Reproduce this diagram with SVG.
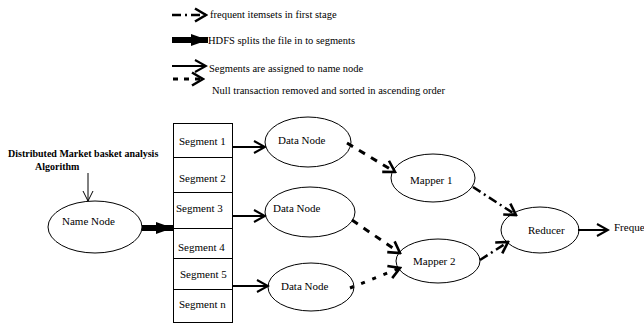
<svg xmlns="http://www.w3.org/2000/svg" width="644" height="323" viewBox="0 0 644 323">
<style>
  text { font-family: "Liberation Serif", "Times New Roman", serif; fill: #000; }
  .lg { font-size: 10.5px; }
  .nd { font-size: 11px; }
  .title { font-size: 10px; font-weight: bold; }
  .node ellipse, .node rect { fill: #fff; stroke: #000; stroke-width: 1; }
  .seg line { stroke: #000; stroke-width: 1; }
  .c { fill: none; stroke: #000; }
  .solid { stroke-width: 2; marker-end: url(#v); }
  .dash { stroke-width: 3; stroke-dasharray: 7 7; marker-end: url(#vb); }
  .dot { stroke-width: 3; stroke-dasharray: 4 8; marker-end: url(#vb); }
  .dd { stroke-width: 2.5; stroke-dasharray: 9 4 2 4; marker-end: url(#vb); }
  .thick { stroke-width: 6; marker-end: url(#tri); }
</style>
<defs>
  <marker id="v" markerUnits="userSpaceOnUse" markerWidth="14" markerHeight="14" viewBox="0 0 14 14" refX="12" refY="7" orient="auto">
    <path d="M1,1 L12,7 L1,13" fill="none" stroke="#000" stroke-width="2"/>
  </marker>
  <marker id="vb" markerUnits="userSpaceOnUse" markerWidth="14" markerHeight="16" viewBox="0 0 14 16" refX="12" refY="8" orient="auto">
    <path d="M1,1.5 L12,8 L1,14.5" fill="none" stroke="#000" stroke-width="2.6"/>
  </marker>
  <marker id="vt" markerUnits="userSpaceOnUse" markerWidth="12" markerHeight="12" viewBox="0 0 12 12" refX="11" refY="6" orient="auto">
    <path d="M1,1 L11,6 L1,11" fill="none" stroke="#000" stroke-width="1"/>
  </marker>
  <marker id="tri" markerUnits="userSpaceOnUse" markerWidth="18" markerHeight="14" viewBox="0 0 18 14" refX="17" refY="7" orient="auto">
    <path d="M0,1 L17,7 L0,13 Z" fill="#000"/>
  </marker>
</defs>
<rect width="644" height="323" fill="#fff"/>

<g id="legend">
  <line class="c dd" x1="172" y1="15" x2="206" y2="15"/>
  <text class="lg" x="210" y="18">frequent itemsets in first stage</text>
  <line class="c thick" x1="172" y1="40" x2="208" y2="40"/>
  <text class="lg" x="208" y="44">HDFS splits the file in to segments</text>
  <line class="c solid" x1="172" y1="66" x2="206" y2="66"/>
  <text class="lg" x="209" y="72">Segments are assigned to name node</text>
  <line class="c dash" x1="173" y1="79" x2="203" y2="79" style="stroke-dasharray:5 6"/>
  <text class="lg" x="212" y="94">Null transaction removed and sorted in ascending order</text>
</g>

<g id="title">
  <text class="title" x="8" y="157">Distributed Market basket analysis</text>
  <text class="title" x="35" y="170">Algorithm</text>
</g>

<g id="name-node" class="node">
  <ellipse cx="95" cy="227" rx="47" ry="26"/>
  <text class="nd" x="62" y="225">Name Node</text>
</g>

<g id="segments" class="node seg">
  <rect x="173.5" y="123.5" width="59" height="199"/>
  <line x1="173.5" y1="157.5" x2="232.5" y2="157.5"/>
  <line x1="173.5" y1="192.5" x2="232.5" y2="192.5"/>
  <line x1="173.5" y1="228.5" x2="232.5" y2="228.5"/>
  <line x1="173.5" y1="258.5" x2="232.5" y2="258.5"/>
  <line x1="173.5" y1="289.5" x2="232.5" y2="289.5"/>
  <text class="nd" x="179" y="145">Segment 1</text>
  <text class="nd" x="179" y="182">Segment 2</text>
  <text class="nd" x="176" y="212">Segment 3</text>
  <text class="nd" x="178" y="251">Segment 4</text>
  <text class="nd" x="180" y="278">Segment 5</text>
  <text class="nd" x="179" y="308">Segment n</text>
</g>

<g id="data-node-1" class="node">
  <ellipse cx="308" cy="142" rx="43" ry="25"/>
  <text class="nd" x="278" y="144">Data Node</text>
</g>
<g id="data-node-2" class="node">
  <ellipse cx="310" cy="212" rx="45" ry="25"/>
  <text class="nd" x="273" y="212">Data Node</text>
</g>
<g id="data-node-3" class="node">
  <ellipse cx="311" cy="287" rx="43" ry="24"/>
  <text class="nd" x="281" y="290">Data Node</text>
</g>
<g id="mapper-1" class="node">
  <ellipse cx="433" cy="178" rx="42" ry="24"/>
  <text class="nd" x="410" y="184">Mapper 1</text>
</g>
<g id="mapper-2" class="node">
  <ellipse cx="438" cy="261" rx="42" ry="22"/>
  <text class="nd" x="413" y="265">Mapper 2</text>
</g>
<g id="reducer" class="node">
  <ellipse cx="540" cy="230" rx="39" ry="23"/>
  <text class="nd" x="528" y="234">Reducer</text>
</g>
<g id="output">
  <text class="nd" x="614" y="231">Freque</text>
</g>

<g id="connectors">
  <line class="c" x1="88" y1="173" x2="88" y2="201" stroke-width="1" marker-end="url(#vt)"/>
  <line class="c thick" x1="142" y1="228" x2="173" y2="228"/>
  <line class="c solid" x1="233" y1="147" x2="265" y2="147"/>
  <line class="c solid" x1="233" y1="216" x2="265" y2="216"/>
  <line class="c solid" x1="233" y1="286" x2="268" y2="286"/>
  <line class="c dash" x1="347" y1="143" x2="395" y2="172"/>
  <line class="c dash" x1="352" y1="220" x2="400" y2="253"/>
  <line class="c dot" x1="350" y1="288" x2="400" y2="268"/>
  <line class="c dd" x1="473" y1="187" x2="516" y2="215"/>
  <line class="c dd" x1="480" y1="260" x2="508" y2="242"/>
  <line class="c solid" x1="578" y1="230" x2="608" y2="230" stroke-width="2.5"/>
</g>
</svg>
